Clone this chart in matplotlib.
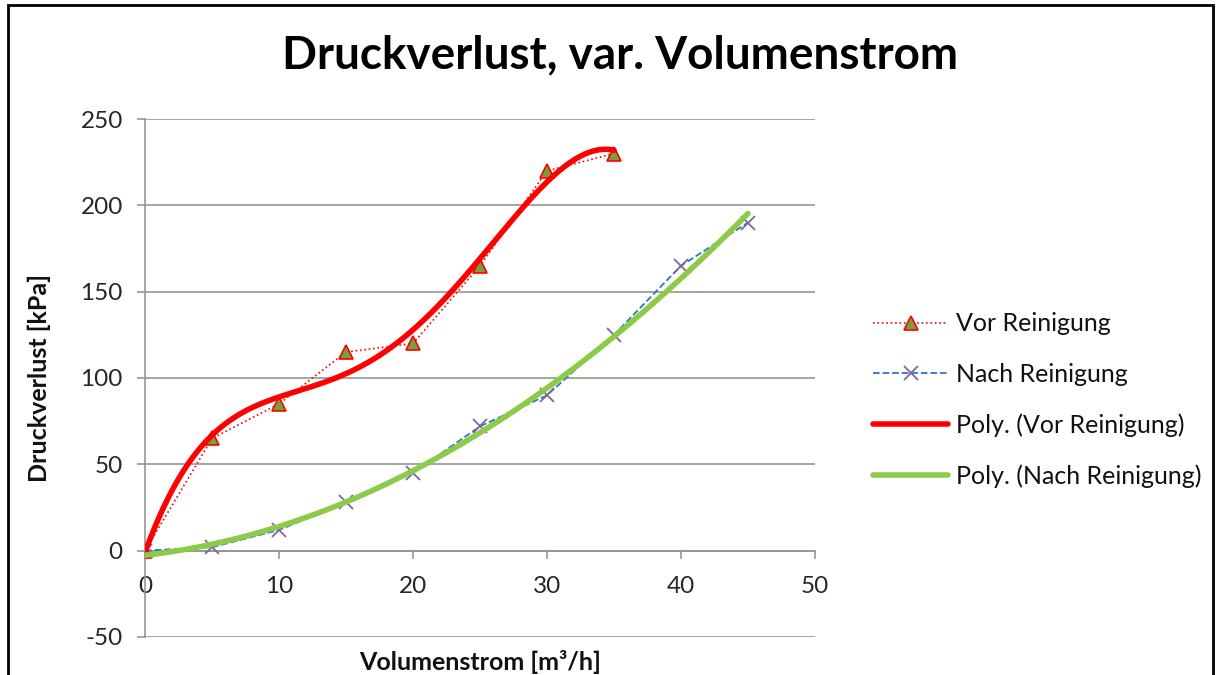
import numpy as np
import matplotlib.pyplot as plt
from matplotlib.patches import Rectangle

# measured data
x_vor = [0, 5, 10, 15, 20, 25, 30, 35]
y_vor = [0, 65, 85, 115, 120, 165, 220, 230]
x_nach = [0, 5, 10, 15, 20, 25, 30, 35, 40, 45]
y_nach = [0, 2, 12, 28, 45, 72, 90, 125, 165, 190]

plt.rcParams['font.family'] = ['Lato', 'DejaVu Sans']
plt.rcParams['axes.unicode_minus'] = False

fig = plt.figure(figsize=(12.2, 6.75), dpi=100)
ax = fig.add_axes([0.1189, 0.0563, 0.668 - 0.1189, 0.8237 - 0.0563])

# polynomial trend lines (like Excel)
p_vor = np.polyfit(x_vor, y_vor, 4)
p_nach = np.polyfit(x_nach, y_nach, 2)
xs_vor = np.linspace(min(x_vor), max(x_vor), 300)
xs_nach = np.linspace(min(x_nach), max(x_nach), 300)

ax.plot(x_vor, y_vor, linestyle=':', color='#FF0000', linewidth=1.2,
        marker='^', markersize=10, markerfacecolor='#77A03C',
        markeredgecolor='#FF0000', markeredgewidth=1.2, label='Vor Reinigung', zorder=3)
ax.plot(x_nach, y_nach, linestyle='--', color='#2F75C4', linewidth=1.3,
        marker='x', markersize=10, markeredgecolor='#8064A2',
        markeredgewidth=1.3, label='Nach Reinigung', zorder=3)
ax.plot(xs_vor, np.polyval(p_vor, xs_vor), color='#FF0000', linewidth=4,
        solid_capstyle='round', label='Poly. (Vor Reinigung)', zorder=4)
ax.plot(xs_nach, np.polyval(p_nach, xs_nach), color='#8CCB4A', linewidth=4,
        solid_capstyle='round', label='Poly. (Nach Reinigung)', zorder=4)

ax.set_xlim(0, 50)
ax.set_ylim(-50, 250)
ax.set_xticks(range(0, 51, 10))
ax.set_yticks(range(-50, 251, 50))
ax.yaxis.grid(True, color='#969696', linewidth=1.2)
ax.set_axisbelow(True)

for s in ['top', 'right']:
    ax.spines[s].set_visible(False)
ax.spines['bottom'].set_position(('data', 0))
ax.spines['bottom'].set_color('#969696')
ax.spines['left'].set_color('#969696')
ax.spines['bottom'].set_linewidth(1.2)
ax.spines['left'].set_linewidth(1.2)
ax.tick_params(axis='both', colors='#969696', labelcolor='#262626',
               labelsize=17.5, length=6, width=1.2)
ax.tick_params(axis='x', pad=12)
ax.tick_params(axis='y', pad=10)

ax.set_xlabel('Volumenstrom [m³/h]', fontsize=18, fontweight='bold', color='#111111')
ax.xaxis.set_label_coords(0.5, -0.025)
ax.set_ylabel('Druckverlust [kPa]', fontsize=18, fontweight='bold', color='#111111')
ax.yaxis.set_label_coords(-0.14, 0.5)

fig.text(0.508, 0.918, 'Druckverlust, var. Volumenstrom', fontsize=33,
         fontweight='bold', ha='center', va='center')

ax.legend(loc='center left', bbox_to_anchor=(1.087, 0.457), frameon=False,
          fontsize=18, labelspacing=1.1, handlelength=3.0, handletextpad=0.3,
          borderpad=0, borderaxespad=0, labelcolor='#111111')

# outer black frame
fig.patches.append(Rectangle((0.0066, -0.05), 0.988, 1.043, transform=fig.transFigure,
                             fill=False, edgecolor='black', linewidth=2))

fig.savefig('out.png', dpi=100)
